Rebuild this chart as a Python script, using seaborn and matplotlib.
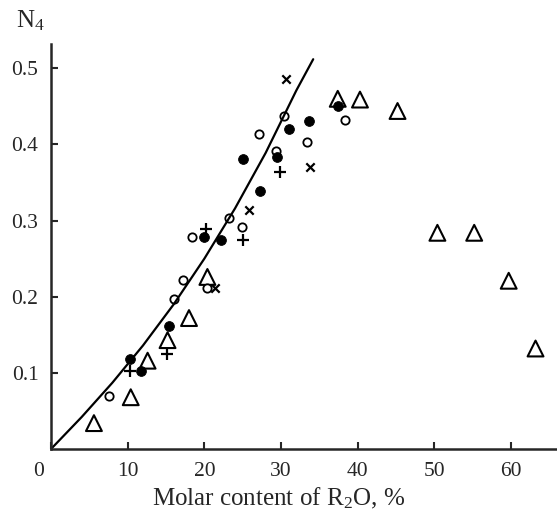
import matplotlib
matplotlib.use("Agg")
import matplotlib.pyplot as plt
import matplotlib.transforms as mtransforms
import seaborn as sns

# Data (x = molar % R2O, y = N4)
filled_x = [10.3, 11.8, 15.4, 20.0, 22.2, 25.0, 27.3, 29.5, 31.0, 33.7, 37.4]
filled_y = [0.118, 0.103, 0.162, 0.278, 0.275, 0.381, 0.339, 0.383, 0.420, 0.431, 0.450]

open_x = [7.5, 16.0, 17.2, 18.4, 20.4, 23.2, 24.9, 27.1, 29.4, 30.4, 33.4, 38.3]
open_y = [0.070, 0.197, 0.222, 0.279, 0.211, 0.303, 0.292, 0.414, 0.391, 0.437, 0.403, 0.432]

tri_x = [5.6, 10.4, 12.6, 15.2, 18.0, 20.4, 37.4, 40.3, 45.2, 50.4, 55.2, 59.7, 63.2]
tri_y = [0.034, 0.068, 0.116, 0.143, 0.172, 0.226, 0.460, 0.459, 0.444, 0.284, 0.284, 0.221, 0.132]

plus_x = [10.3, 15.1, 20.2, 25.0, 29.9]
plus_y = [0.102, 0.125, 0.289, 0.275, 0.364]

cross_x = [21.4, 25.8, 30.6, 33.8]
cross_y = [0.211, 0.314, 0.486, 0.370]

curve_x = [0, 4, 8, 12, 16, 20, 24, 28, 32, 34.2]
curve_y = [0, 0.042, 0.087, 0.136, 0.190, 0.250, 0.316, 0.389, 0.471, 0.512]

xticks = [0, 10, 20, 30, 40, 50, 60]
yticks = [0.1, 0.2, 0.3, 0.4, 0.5]

sns.set_style("ticks")
plt.rcParams["font.family"] = ["Liberation Serif", "DejaVu Serif"]
plt.rcParams["mathtext.fontset"] = "custom"
plt.rcParams["mathtext.rm"] = "Liberation Serif"
plt.rcParams["mathtext.it"] = "Liberation Serif:italic"

fig = plt.figure(figsize=(5.57, 5.15), dpi=100)
ax = fig.add_axes([51 / 557, 66 / 515, 506 / 557, 405 / 515])

sns.lineplot(x=curve_x, y=curve_y, ax=ax, color="black", linewidth=1.6)

sns.scatterplot(x=tri_x, y=tri_y, ax=ax, marker="^", s=130,
                facecolors="none", edgecolors="black", linewidth=1.5)
sns.scatterplot(x=open_x, y=open_y, ax=ax, marker="o", s=36,
                facecolors="white", edgecolors="black", linewidth=1.3)
sns.scatterplot(x=filled_x, y=filled_y, ax=ax, marker="o", s=50,
                color="black", edgecolor="black")
sns.scatterplot(x=plus_x, y=plus_y, ax=ax, marker="+", s=64,
                color="black", linewidth=1.6)
sns.scatterplot(x=cross_x, y=cross_y, ax=ax, marker="x", s=36,
                color="black", linewidth=1.6)

ax.set_xlim(0, 66)
ax.set_ylim(0, 0.532)
ax.set_xticks(xticks)
ax.set_yticks(yticks)
ax.set_xticklabels([str(t) for t in xticks])
ax.set_yticklabels([f"{t:.1f}" for t in yticks])
ax.tick_params(direction="in", length=5, width=1.5, labelsize=15.5)
ax.tick_params(axis="x", pad=9)
ax.tick_params(axis="y", pad=9)
for side in ["top", "right"]:
    ax.spines[side].set_visible(False)
for side in ["left", "bottom"]:
    ax.spines[side].set_linewidth(1.8)

# the "0" label sits left of the corner
lab0 = ax.get_xticklabels()[0]
lab0.set_transform(lab0.get_transform() +
                   mtransforms.ScaledTranslation(-0.12, 0, fig.dpi_scale_trans))

ax.set_xlabel("Molar content of R$_\\mathregular{2}$O, %", fontsize=18)
ax.xaxis.set_label_coords(0.45, -0.092)
ax.set_ylabel("")
fig.text(30 / 557, 1 - 21 / 515, "N$_\\mathregular{4}$", fontsize=18,
         ha="center", va="center")

fig.savefig("out.png", dpi=100)
